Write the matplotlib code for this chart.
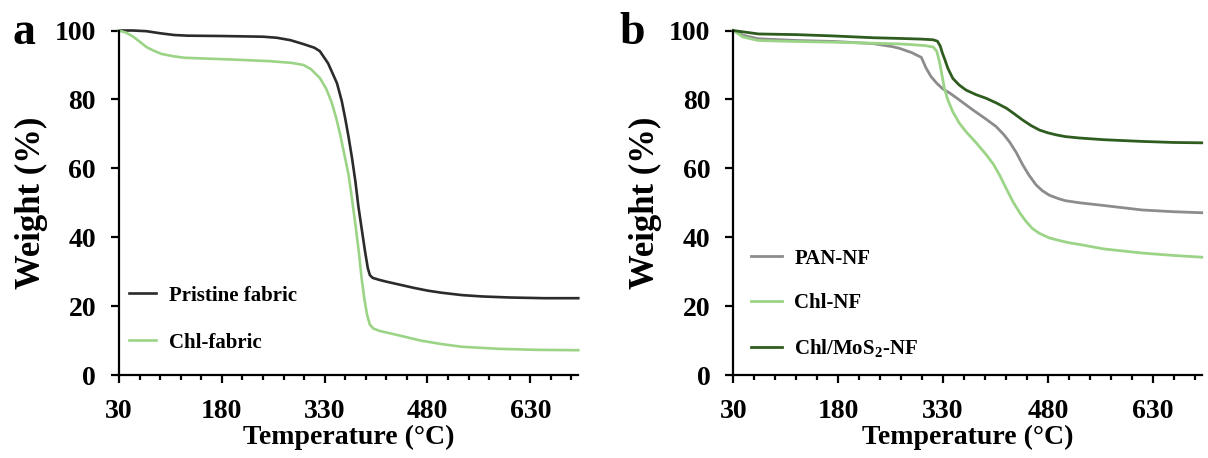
import matplotlib
matplotlib.use("Agg")
import matplotlib.pyplot as plt
from matplotlib.ticker import MultipleLocator

plt.rcParams['font.family'] = ['Liberation Serif', 'DejaVu Serif']
plt.rcParams['font.weight'] = 'bold'
plt.rcParams['mathtext.fontset'] = 'custom'
plt.rcParams['mathtext.rm'] = 'Liberation Serif:bold'
plt.rcParams['mathtext.bf'] = 'Liberation Serif:bold'

# ---- Panel a data ----
pristine_T = [30, 50, 70, 90, 110, 130, 180, 240, 260, 280, 300, 315, 323, 335, 348, 355, 360,
              365, 370, 375, 379, 384, 389, 393, 396, 400, 410, 420, 440, 460, 480, 500, 530,
              560, 600, 650, 700]
pristine_W = [100, 100, 99.8, 99.2, 98.7, 98.5, 98.4, 98.2, 97.9, 97.2, 96.0, 95.0, 94.0, 90.5,
              84.7, 79.5, 74.5, 69.0, 62.9, 56.0, 49.3, 42.5, 35.8, 31.0, 29.0, 28.2, 27.6,
              27.1, 26.2, 25.3, 24.5, 23.9, 23.2, 22.8, 22.5, 22.3, 22.3]

chl_fab_T = [30, 40, 50, 60, 70, 80, 92, 110, 125, 150, 192, 250, 282, 299, 310, 323, 332, 340,
             347, 353, 359, 365, 370, 375, 380, 384, 388, 392, 396, 401, 410, 430, 470, 500,
             530, 584, 640, 700]
chl_fab_W = [100, 99.4, 98.3, 96.8, 95.2, 94.2, 93.2, 92.5, 92.1, 91.9, 91.6, 91.1, 90.6, 90.0,
             88.8, 86.2, 83.2, 79.3, 74.5, 69.5, 63.8, 58.0, 51.0, 43.5, 35.5, 28.0, 22.0,
             17.4, 14.6, 13.5, 12.8, 11.9, 10.0, 9.0, 8.2, 7.6, 7.3, 7.2]

# ---- Panel b data ----
pan_T = [30, 44, 66, 121, 176, 230, 258, 268, 285, 299, 306, 313, 321, 330, 340, 355, 373, 390,
         406, 416, 425, 435, 444, 453, 463, 472, 482, 495, 505, 525, 560, 615, 660, 700]
pan_W = [100, 98.6, 97.6, 97.1, 96.8, 96.2, 95.3, 94.8, 93.6, 92.2, 89.0, 86.6, 84.7, 83.0,
         81.8, 79.6, 76.9, 74.5, 72.1, 70.0, 67.7, 64.5, 61.0, 58.0, 55.2, 53.5, 52.2, 51.2,
         50.6, 50.0, 49.2, 47.9, 47.4, 47.1]

chlnf_T = [30, 44, 66, 121, 176, 230, 268, 285, 305, 316, 321, 325, 329, 332, 337, 344, 353, 363,
           377, 392, 402, 411, 420, 430, 440, 449, 458, 468, 482, 497, 510, 525, 560, 615, 660,
           700]
chlnf_W = [100, 98.1, 97.1, 96.8, 96.6, 96.3, 96.1, 95.9, 95.6, 95.2, 94.0, 90.9, 86.5, 83.2,
           79.8, 76.4, 73.2, 70.6, 67.5, 63.9, 61.2, 58.0, 54.3, 50.3, 47.0, 44.5, 42.5, 41.1,
           39.8, 39.0, 38.4, 37.9, 36.6, 35.4, 34.7, 34.2]

mos2_T = [30, 66, 121, 176, 230, 268, 300, 316, 322, 326, 329, 332, 337, 344, 353, 363, 377, 392,
          406, 421, 432, 444, 456, 468, 480, 492, 505, 525, 560, 615, 660, 700]
mos2_W = [100, 99.0, 98.8, 98.4, 97.9, 97.7, 97.5, 97.3, 96.9, 95.5, 93.5, 91.9, 89.0, 86.1,
          84.2, 82.7, 81.4, 80.3, 79.0, 77.4, 75.8, 74.0, 72.4, 71.1, 70.3, 69.7, 69.2, 68.8,
          68.3, 67.8, 67.5, 67.4]

x_ticks = [30, 180, 330, 480, 630]
y_ticks = [0, 20, 40, 60, 80, 100]

fig = plt.figure(figsize=(12.08, 4.58), dpi=100)
axa = fig.add_axes([0.0985, 0.1812, 0.3802, 0.7522])
axb = fig.add_axes([0.6070, 0.1812, 0.3878, 0.7522])

c_black = '#2b2b2b'
c_light = '#9cd487'
c_gray = '#8c8c8c'
c_dark = '#2f5c1f'

axa.plot(pristine_T, pristine_W, color=c_black, lw=1.9, label='Pristine fabric', clip_on=False)
axa.plot(chl_fab_T, chl_fab_W, color=c_light, lw=1.9, label='Chl-fabric', clip_on=False)

axb.plot(pan_T, pan_W, color=c_gray, lw=2.0, label='PAN-NF', clip_on=False)
axb.plot(chlnf_T, chlnf_W, color=c_light, lw=2.0, label='Chl-NF', clip_on=False)
axb.plot(mos2_T, mos2_W, color=c_dark, lw=2.0, label=r'Chl/MoS$_2$-NF', clip_on=False)

for ax in (axa, axb):
    ax.set_xlim(30, 700)
    ax.set_ylim(0, 100)
    ax.set_xticks(x_ticks)
    ax.set_yticks(y_ticks)
    ax.xaxis.set_minor_locator(MultipleLocator(30))
    for s in ('top', 'right'):
        ax.spines[s].set_visible(False)
    for s in ('left', 'bottom'):
        ax.spines[s].set_linewidth(1.6)
    ax.tick_params(axis='both', which='major', direction='out', length=6, width=1.6,
                   labelsize=20)
    ax.tick_params(axis='x', which='major', pad=11)
    ax.tick_params(axis='y', which='major', pad=10.5)
    ax.tick_params(axis='x', which='minor', direction='out', length=3.5, width=1.6)
    ax.tick_params(axis='y', which='minor', left=False)
    ax.set_xlabel('Temperature (°C)', fontsize=20, fontweight='bold', labelpad=1)
    ax.set_ylabel('Weight (%)', fontsize=25, fontweight='bold', labelpad=5)

axa.legend(loc='center left', bbox_to_anchor=(0.022, 0.162), frameon=False,
           prop={'family': 'Liberation Serif', 'weight': 'bold', 'size': 15},
           handlelength=1.3, handletextpad=0.6, labelspacing=1.3, borderpad=0, borderaxespad=0)
axb.legend(loc='center left', bbox_to_anchor=(0.037, 0.205), frameon=False,
           prop={'family': 'Liberation Serif', 'weight': 'bold', 'size': 15},
           handlelength=1.5, handletextpad=0.6, labelspacing=1.17, borderpad=0, borderaxespad=0)

fig.text(0.010, 0.905, 'a', fontsize=33, fontweight='bold', ha='left', va='baseline')
fig.text(0.513, 0.905, 'b', fontsize=33, fontweight='bold', ha='left', va='baseline')

fig.savefig('out.png', dpi=100)
